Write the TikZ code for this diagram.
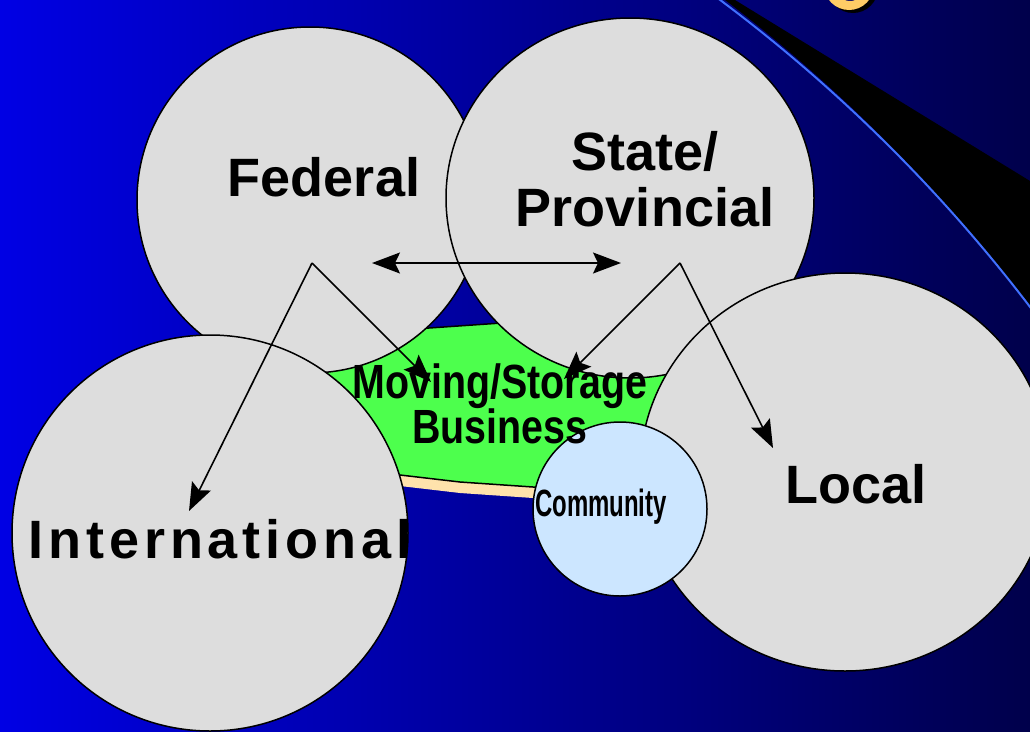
\documentclass[tikz,border=0pt]{standalone}
\usepackage{fontspec}
\usepackage{graphicx}
\setmainfont{Liberation Sans}
\usetikzlibrary{arrows.meta, shapes.geometric}

\definecolor{bubblegrey}{RGB}{221,221,221}
\definecolor{bizgreen}{RGB}{77,255,77}
\definecolor{bizcream}{RGB}{255,226,172}
\definecolor{commblue}{RGB}{204,230,255}
\definecolor{arcblue}{RGB}{64,112,255}
\definecolor{titlegold}{RGB}{255,204,102}
\definecolor{bgleft}{RGB}{0,0,228}
\definecolor{bgmid}{RGB}{0,0,200}
\definecolor{bgright}{RGB}{0,0,75}

\begin{document}
\begin{tikzpicture}[
    x=1pt, y=-1pt,
    >={Stealth[length=28pt,width=21pt,inset=5pt]},
    bubble/.style={circle, draw, line width=1.5pt, fill=bubblegrey, inner sep=0pt},
    tier/.style={font=\fontsize{54}{56}\selectfont\bfseries, inner sep=0pt, align=center},
    link/.style={line width=1.6pt},
  ]

  % --- FRAME AND BACKGROUND ---
  \useasboundingbox (0,0) rectangle (1030,731);
  \clip (0,0) rectangle (1030,731);
  \shade[left color=bgleft, middle color=bgmid, right color=bgright] (0,0) rectangle (1030,731);

  % --- top right swoosh ---
  \coordinate (arccentre) at (-222,1261);
  \coordinate (shadecentre) at (-229,1252);
  \begin{scope}
    \clip (735,0) -- (1030,181) -- (1030,731) -- (0,731) -- (0,0) -- cycle;
    \fill[black, even odd rule] (-50,-50) rectangle (1080,780) (shadecentre) circle (1574);
  \end{scope}
  \draw[arcblue, line width=2pt] (arccentre) circle (1574);

  % cut off title letter
  \fill[black, even odd rule] (853,-12) circle (25) (854,-11) circle (15);
  \fill[titlegold, even odd rule] (849,-15) circle (25) (850,-14) circle (15);

  % --- BUSINESS PATCH ---
  \fill[bizcream] (310,371) -- (400,341) -- (560,330) -- (700,371) -- (690,461)
    -- (620,503) -- (533,498) -- (460,493) -- (400,486) -- (370,471) -- (310,396) -- cycle;
  \draw[line width=1.5pt, fill=bizgreen] (310,360) -- (400,330) -- (560,319) -- (700,360) -- (690,450)
    -- (620,492) -- (533,487) -- (460,482) -- (400,475) -- (370,460) -- (310,385) -- cycle;

  % --- LEVELS ---
  \node[bubble, minimum size=346pt] (federal) at (310,200) {};
  \node[bubble, ellipse, minimum width=368pt, minimum height=360pt] (state) at (630,198) {};
  \node[bubble, minimum size=396pt] (intl) at (210,533) {};
  \node[bubble, ellipse, minimum width=410pt, minimum height=398pt] (local) at (845,472) {};
  \node[bubble, fill=commblue, minimum size=174pt] (community) at (620,509) {};

  % --- LABELS ---
  \node[tier, anchor=base] (fedname) at (324,196) {Federal};
  \node[tier] (statename) at (645,179) {State/\\Provincial};
  \node[tier, anchor=base] (localname) at (856,503) {Local};
  \node[tier, anchor=base] (intlname) at (220,558) {\addfontfeatures{LetterSpace=9}International};
  \node[tier, font=\fontsize{48}{45}\selectfont\bfseries] (bizname) at (500,404)
    {\scalebox{0.82}[1]{Moving/Storage}\\\scalebox{0.82}[1]{Business}};
  \node[tier, font=\fontsize{38}{40}\selectfont\bfseries] (commname) at (601,507)
    {\scalebox{0.63}[1]{Community}};

  % --- INFLUENCE ARROWS ---
  \coordinate (fedhub) at (312,263);
  \coordinate (statehub) at (680,263);
  \coordinate (intltip) at (189,511);
  \coordinate (bizleft) at (431,382);
  \coordinate (bizright) at (564,379);
  \coordinate (localtip) at (773,448);
  \coordinate (fedtip) at (372,263);
  \coordinate (statetip) at (621,263);

  \draw[link, ->] (fedhub) -- (intltip);
  \draw[link, ->] (fedhub) -- (bizleft);
  \draw[link, ->] (statehub) -- (bizright);
  \draw[link, ->] (statehub) -- (localtip);
  \draw[link, <->] (fedtip) -- (statetip);

\end{tikzpicture}
\end{document}
